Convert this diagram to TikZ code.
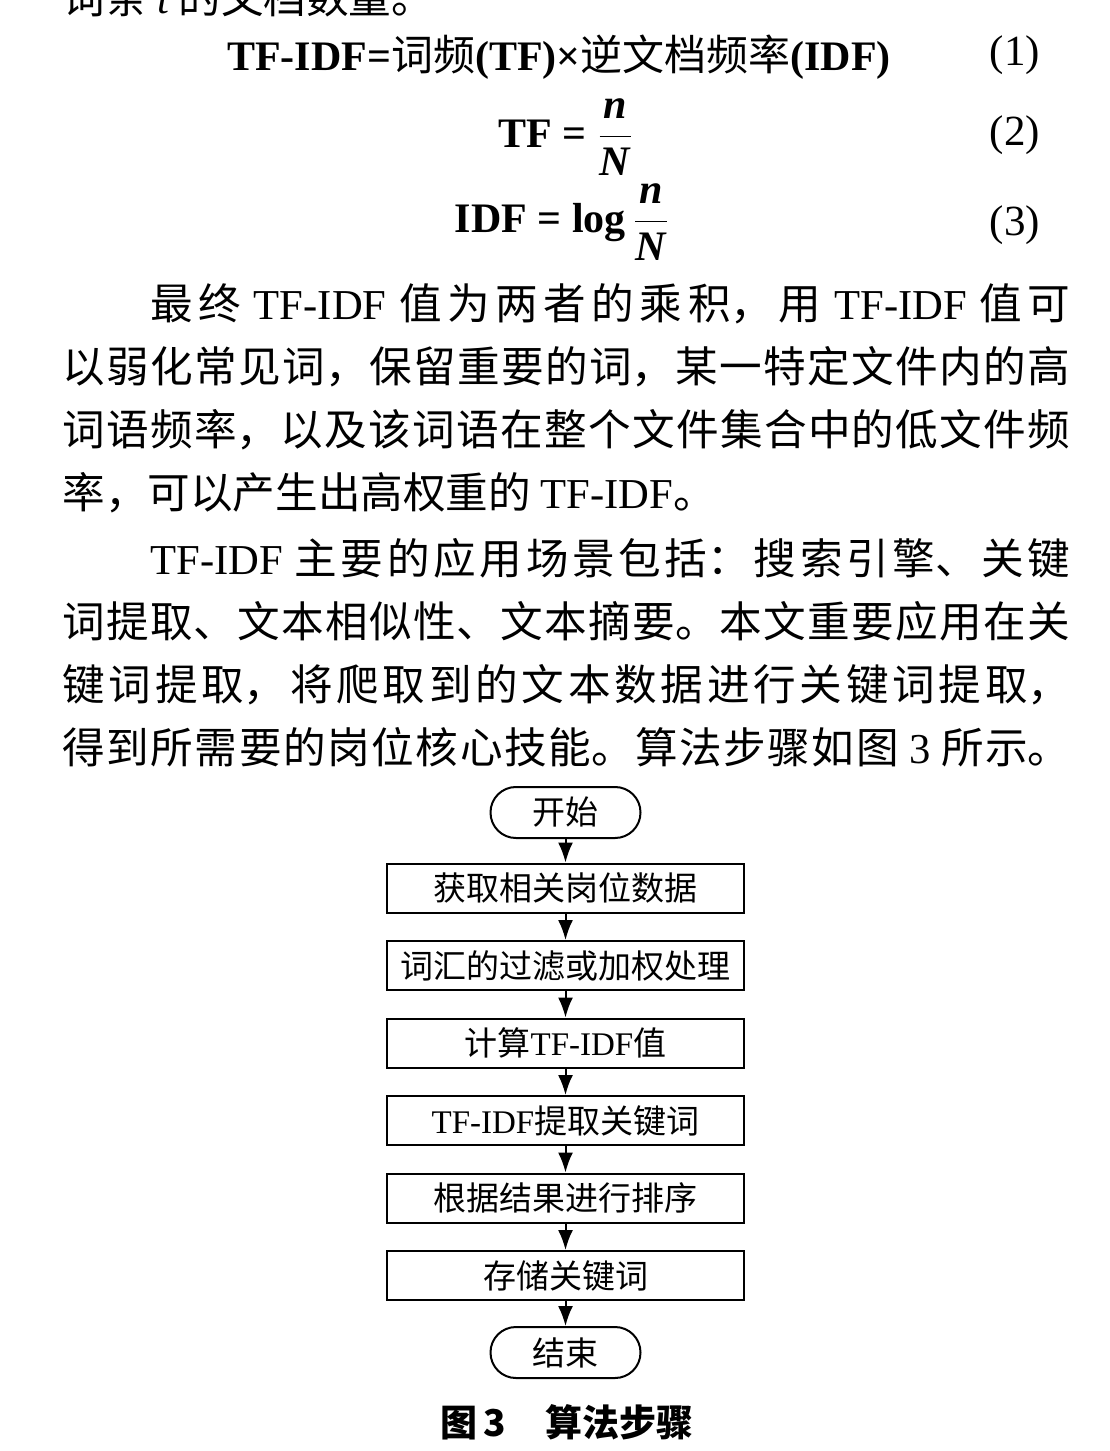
\documentclass[tikz,border=0pt]{standalone}
\usepackage{fontspec}
\setmainfont{Liberation Serif}
\newfontfamily\cjk{Noto Sans CJK SC}
\usetikzlibrary{positioning,arrows.meta}
\XeTeXlinebreaklocale "zh"
\XeTeXlinebreakskip=0pt plus 4pt
\newcommand\tfidf{\mbox{\textrm{TF-IDF}}}
\newcommand\justline[1]{\parfillskip=0pt\relax #1\par}
\tikzset{
    txtline/.style={anchor=west, inner sep=0pt, text width=504pt, align=justify,
        text height=18.7pt, text depth=2.6pt, font=\cjk\fontsize{21.3pt}{26pt}\selectfont},
    eqn/.style={anchor=base, inner sep=0pt, font=\fontsize{21pt}{25pt}\selectfont\bfseries},
    eqnum/.style={inner sep=0pt, font=\fontsize{21.5pt}{26pt}\selectfont},
    stepbox/.style={draw, line width=1pt, minimum width=178.5pt, minimum height=24.5pt,
        inner sep=0pt, font=\cjk\fontsize{16.5pt}{20pt}\selectfont},
    terminal/.style={stepbox, minimum width=75pt, minimum height=25.5pt, rounded corners=12.7pt},
    flow/.style={-{Latex[length=10pt,width=7.5pt]}, line width=1pt}
}
\begin{document}
\begin{tikzpicture}[x=0.5pt, y=-0.5pt]
    \useasboundingbox (0,0) rectangle (1109,1451);

    % Text above the figure
    \node[txtline] (top) at (62,-3) {词条 {\rmfamily\itshape t} 的文档数量。};

    \node[eqn] (eqA) at (559,70) {TF-IDF={\cjk\mdseries 词频}(TF)×{\cjk\mdseries 逆文档频率}(IDF)};
    \node[eqn] (eqB) at (566,147) {TF = $\displaystyle\frac{\textbf{\textit{n}}}{\textbf{\textit{N}}}$};
    \node[eqn] (eqC) at (562,232) {IDF = log\,$\displaystyle\frac{\textbf{\textit{n}}}{\textbf{\textit{N}}}$};
    \node[eqnum] (numA) at (1015,55) {(1)};
    \node[eqnum] (numB) at (1015,135) {(2)};
    \node[eqnum] (numC) at (1015,225) {(3)};

    \node[txtline, text width=460pt] (parA1) at (150,303) {\justline{最终 \tfidf{} 值为两者的乘积，用 \tfidf{} 值可}};
    \node[txtline] (parA2) at (62,366) {\justline{以弱化常见词，保留重要的词，某一特定文件内的高}};
    \node[txtline] (parA3) at (62,429) {\justline{词语频率，以及该词语在整个文件集合中的低文件频}};
    \node[txtline] (parA4) at (62,492) {率，可以产生出高权重的 \tfidf。};
    \node[txtline, text width=460pt] (parB1) at (150,558) {\justline{\tfidf{} 主要的应用场景包括：搜索引擎、关键}};
    \node[txtline] (parB2) at (62,621) {\justline{词提取、文本相似性、文本摘要。本文重要应用在关}};
    \node[txtline] (parB3) at (62,684) {\justline{键词提取，将爬取到的文本数据进行关键词提取，}};
    \node[txtline] (parB4) at (62,747) {\justline{得到所需要的岗位核心技能。算法步骤如图 {\rmfamily 3} 所示。}};

    % Nodes
    \node[terminal] (start) at (565.5,812.5) {开始};
    \node[stepbox, below=11.75pt of start] (fetch) {获取相关岗位数据};
    \node[stepbox, below=13.25pt of fetch] (filter) {词汇的过滤或加权处理};
    \node[stepbox, below=13.25pt of filter] (calc) {计算\textrm{TF-IDF}值};
    \node[stepbox, below=13.25pt of calc] (extract) {\textrm{TF-IDF}提取关键词};
    \node[stepbox, below=13.25pt of extract] (sort) {根据结果进行排序};
    \node[stepbox, below=13.25pt of sort] (store) {存储关键词};
    \node[terminal, below=12.5pt of store] (stop) {结束};

    \node[inner sep=0pt, font=\cjk\bfseries\fontsize{18.5pt}{22pt}\selectfont] (caption) at (567,1422)
        {图\hspace{3pt}3\hspace{20pt}算法步骤};

    % Edges
    \foreach \a/\b in {start/fetch, fetch/filter, filter/calc, calc/extract,
                       extract/sort, sort/store, store/stop} {
        \draw[flow] (\a) -- (\b);
    }
\end{tikzpicture}
\end{document}
